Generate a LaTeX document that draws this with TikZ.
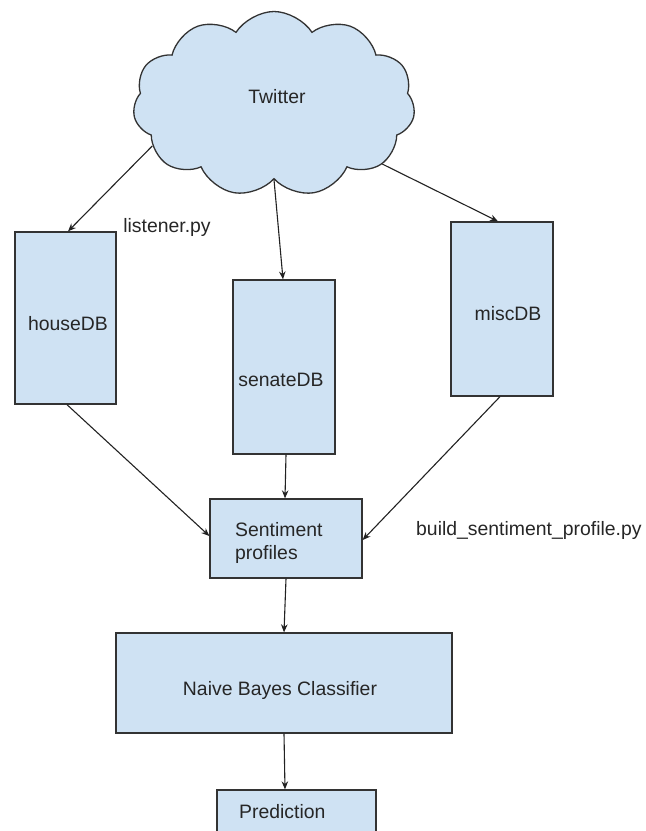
\documentclass[tikz,border=0pt]{standalone}
\usepackage{fontspec}
\setmainfont{Liberation Sans}
\usetikzlibrary{shapes.symbols,arrows.meta}
\definecolor{boxfill}{HTML}{CFE2F3}
\definecolor{edgec}{HTML}{333333}
\definecolor{linec}{HTML}{222222}
\begin{document}
\begin{tikzpicture}[x=1pt,y=-1pt,
  box/.style={draw=edgec,fill=boxfill,line width=1.3pt,rectangle,inner sep=0pt},
  txt/.style={inner sep=0pt,font=\fontsize{19.4}{23}\selectfont,text=black!85},
  conn/.style={draw=linec,line width=1.1pt,-{Stealth[length=8pt,width=6.5pt]}}]
\useasboundingbox (0,0) rectangle (646,831);
\clip (0,0) rectangle (646,831);
% cloud
\node[cloud, cloud puffs=11, cloud puff arc=115, draw=edgec, fill=boxfill,
      line width=1.3pt, minimum width=282pt, minimum height=185pt,
      aspect=1.5, inner sep=0pt] (tw) at (274,104) {};
\node[txt, anchor=base] (twt) at (277,103) {Twitter};
% boxes
\node[box, minimum width=101pt, minimum height=172pt] (house) at (65.5,318) {};
\node[box, minimum width=102pt, minimum height=174pt] (senate) at (284,367) {};
\node[box, minimum width=102pt, minimum height=174pt] (misc) at (502,309) {};
\node[box, minimum width=152pt, minimum height=79pt] (sent) at (286,538.5) {};
\node[box, minimum width=336pt, minimum height=100pt] (nb) at (284,683) {};
\node[box, minimum width=159pt, minimum height=100pt] (pred) at (296.5,840) {};
% box texts
\node[txt, anchor=base] (houset) at (68,330) {houseDB};
\node[txt, anchor=base] (senatet) at (281,386.5) {senateDB};
\node[txt, anchor=base] (misct) at (508,320) {miscDB};
\node[txt, anchor=base west] (sent1) at (235,536) {Sentiment};
\node[txt, anchor=base west] (sent2) at (235,559) {profiles};
\node[txt, anchor=base] (nbt) at (280,695) {Naive Bayes Classifier};
\node[txt, anchor=base west] (predt) at (239,818) {Prediction};
% labels
\node[txt, anchor=base] (lis) at (167,232.5) {listener.py};
\node[txt, anchor=base west] (bsp) at (416,535) {build\_sentiment\_profile.py};
% connectors
\draw[conn] (tw.199) -- ([xshift=2.5pt]house.north);
\draw[conn] (tw.270) -- ([xshift=-1pt]senate.north);
\draw[conn] (tw.331) -- ([xshift=-4pt]misc.north);
\draw[conn] ([xshift=1.5pt]house.south) -- ([yshift=2.5pt]sent.west);
\draw[conn] ([xshift=2pt]senate.south) -- ([xshift=-1pt]sent.north);
\draw[conn] ([xshift=-2pt]misc.south) -- ([yshift=-1.5pt]sent.east);
\draw[conn] (sent.south) -- ([xshift=-2pt]sent.south |- nb.north);
\draw[conn] (nb.south) -- ([xshift=-11.5pt]pred.north);
\end{tikzpicture}
\end{document}
